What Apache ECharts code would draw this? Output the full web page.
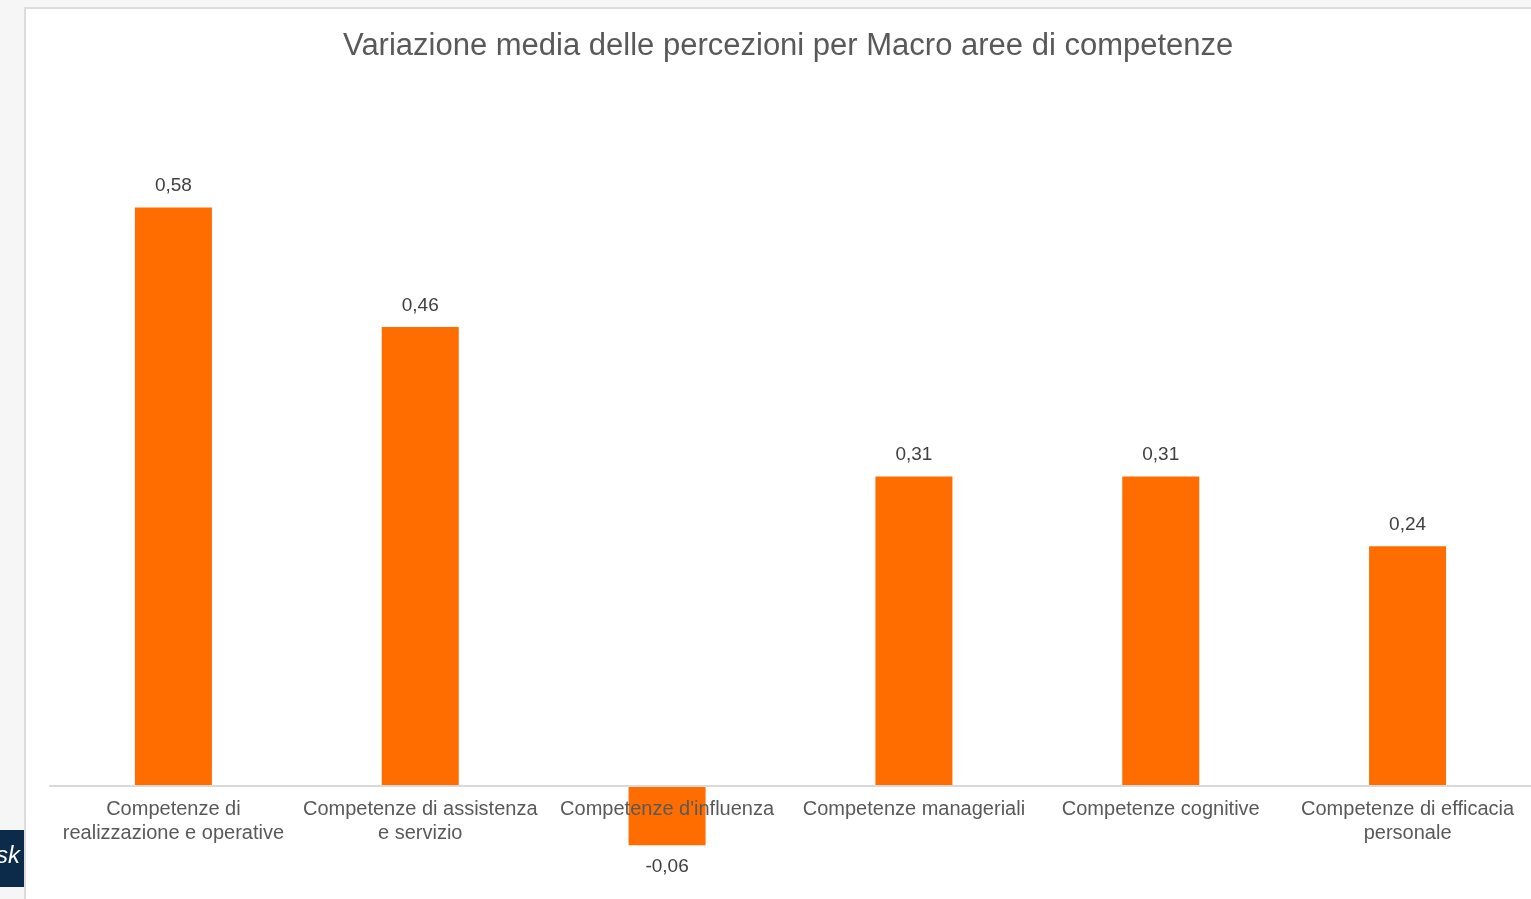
<!DOCTYPE html>
<html>
<head>
<meta charset="utf-8">
<script src="https://cdn.jsdelivr.net/npm/echarts@6/dist/echarts.min.js"></script>
<style>
  html, body { margin: 0; padding: 0; background: #f6f6f6; }
  #chart { width: 1531px; height: 899px; }
</style>
</head>
<body>
<div id="chart"></div>
<script>
const title = 'Variazione media delle percezioni per Macro aree di competenze'
const categories = [
  'Competenze di\nrealizzazione e operative',
  'Competenze di assistenza\ne servizio',
  'Competenze d\'influenza',
  'Competenze manageriali',
  'Competenze cognitive',
  'Competenze di efficacia\npersonale'
]
const values = [0.58, 0.46, -0.06, 0.31, 0.31, 0.24]

const chart = echarts.init(document.getElementById('chart'))

const fmt = v => v.toFixed(2).replace('.', ',')

const yMin = -0.1
const yMax = 0.7
const gridTop = 88
const gridBottom = 14
// pixel distance between the zero line and the bottom of the grid
const zeroOffset = (899 - gridTop - gridBottom) * (0 - yMin) / (yMax - yMin)

const option = {
  backgroundColor: '#f6f6f6',
  textStyle: { fontFamily: 'Liberation Sans, Arial, sans-serif' },
  graphic: [
    {
      type: 'rect',
      shape: { x: 25, y: 8, width: 1540, height: 900 },
      style: { fill: '#ffffff', stroke: '#dcdcdc', lineWidth: 2 },
      z: -10
    },
    {
      type: 'rect',
      shape: { x: 0, y: 830, width: 24, height: 57 },
      style: { fill: '#0c2a4a' },
      z: -10
    },
    {
      type: 'text',
      left: -4,
      top: 844,
      style: { text: 'sk', fill: '#ffffff', font: 'italic 24px Liberation Sans' },
      z: -9
    }
  ],
  title: {
    text: title,
    left: 338,
    top: 26,
    textStyle: {
      color: '#595959',
      fontSize: 31,
      fontWeight: 'normal'
    }
  },
  grid: {
    left: 50,
    right: 0,
    top: gridTop,
    bottom: gridBottom,
    containLabel: false,
    outerBoundsMode: 'none'
  },
  xAxis: {
    type: 'category',
    data: categories,
    z: 5,
    offset: -zeroOffset,
    axisLine: { onZero: false, lineStyle: { color: '#d9d9d9', width: 2 } },
    axisTick: { show: false },
    axisLabel: {
      color: '#595959',
      fontSize: 20,
      lineHeight: 24,
      margin: 12,
      interval: 0
    }
  },
  yAxis: {
    type: 'value',
    min: yMin,
    max: yMax,
    show: false,
    splitLine: { show: false }
  },
  series: [
    {
      type: 'bar',
      barWidth: 77,
      data: values.map(v => ({
        value: v,
        label: { position: v < 0 ? 'bottom' : 'top' }
      })),
      itemStyle: { color: '#ff6d00' },
      label: {
        show: true,
        distance: 12,
        color: '#404040',
        fontSize: 19,
        formatter: p => fmt(p.value)
      }
    }
  ]
}

chart.setOption(option)
</script>
</body>
</html>
